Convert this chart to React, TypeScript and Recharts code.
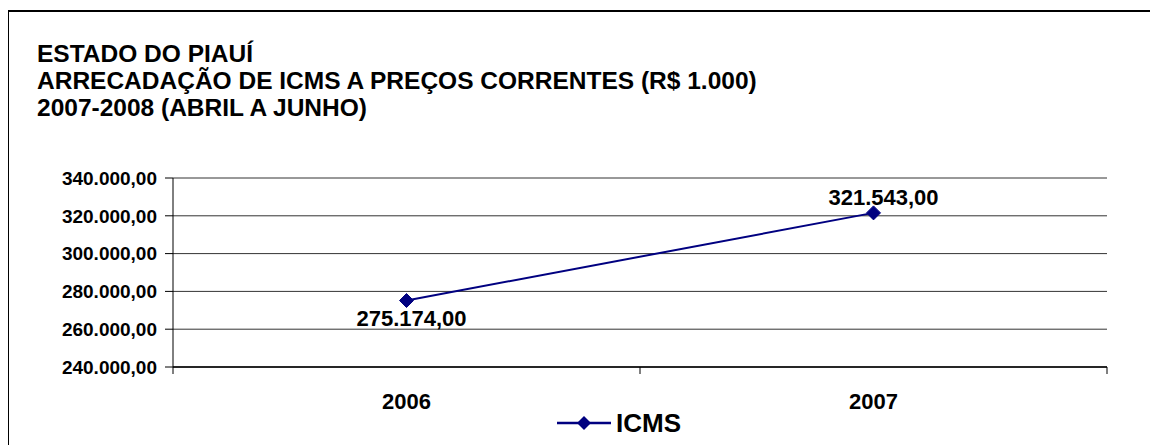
import React from "react";
import { LineChart, Line, XAxis, YAxis, CartesianGrid, Legend, LabelList } from "recharts";

const years = ["2006", "2007"];
const icms = [275174, 321543];
const yTicks = [240000, 260000, 280000, 300000, 320000, 340000];
const titleLines = [
  "ESTADO DO PIAUÍ",
  "ARRECADAÇÃO DE ICMS A PREÇOS CORRENTES (R$ 1.000)",
  "2007-2008 (ABRIL A JUNHO)",
];

const data = years.map((year, i) => ({ year, ICMS: icms[i] }));

const FONT = '"Liberation Sans", Arial, sans-serif';
const NAVY = "#000080";
const X_TICK_SIZE = 6;
const X_TICK_MARGIN = 20;

// 340000 -> "340.000,00"
function brl(v: number) {
  const [int, dec] = v.toFixed(2).split(".");
  return int.replace(/\B(?=(\d{3})+(?!\d))/g, ".") + "," + dec;
}

const Diamond = (props: any) => {
  const { cx, cy } = props;
  if (cx == null || cy == null) return null;
  const r = 7;
  return (
    <polygon
      points={`${cx},${cy - r} ${cx + r},${cy} ${cx},${cy + r} ${cx - r},${cy}`}
      fill={NAVY}
      stroke={NAVY}
    />
  );
};

// category label plus excel-style tick marks between the categories
const XTick = (props: any) => {
  const { x, y, payload, index, visibleTicksCount } = props;
  const axisY = y - X_TICK_SIZE - X_TICK_MARGIN;
  const half = payload.offset || 0;
  const last = index === visibleTicksCount - 1;
  return (
    <g>
      <line x1={x - half} x2={x - half} y1={axisY} y2={axisY + 7} stroke="#000" />
      {last && <line x1={x + half} x2={x + half} y1={axisY} y2={axisY + 7} stroke="#000" />}
      <text x={x} y={y} dy="0.71em" textAnchor="middle" fontFamily={FONT} fontWeight="bold" fontSize={22} fill="#000">
        {payload.value}
      </text>
    </g>
  );
};

const ValueLabel = (props: any) => {
  const { x, y, value, index } = props;
  // first point: label under it, second: label above it
  const below = index === 0;
  return (
    <text
      x={x + (below ? 5 : 10)}
      y={y + (below ? 25 : -8)}
      textAnchor="middle"
      fontFamily={FONT}
      fontWeight="bold"
      fontSize={22}
      fill="#000"
    >
      {brl(value)}
    </text>
  );
};

const LegendBox = () => (
  <div style={{ display: "flex", alignItems: "center", fontFamily: FONT }}>
    <svg width={56} height={20}>
      <line x1={0} y1={10} x2={54} y2={10} stroke={NAVY} strokeWidth={2.5} />
      <polygon points="27,3 34,10 27,17 20,10" fill={NAVY} />
    </svg>
    <span style={{ fontSize: 26, fontWeight: "bold", marginLeft: 3, lineHeight: "30px" }}>ICMS</span>
  </div>
);

export default function App() {
  return (
    <div style={{ position: "fixed", left: 0, top: 0, width: 1150, height: 445, overflow: "hidden", background: "#fff" }}>
      <div
        style={{
          position: "absolute",
          left: 8,
          top: 10,
          width: 1142,
          height: 435,
          borderLeft: "1.5px solid #000",
          borderTop: "2px solid #000",
          boxSizing: "border-box",
        }}
      />
      <div style={{ position: "absolute", left: 37, top: 40, fontFamily: FONT, fontWeight: "bold", fontSize: 24.5, lineHeight: "27px", color: "#000" }}>
        {titleLines.map((t) => (
          <div key={t}>{t}</div>
        ))}
      </div>
      <div style={{ position: "absolute", left: 0, top: 0 }}>
        <LineChart width={1150} height={445} data={data} margin={{ top: 178, right: 43, left: 0, bottom: 7 }}>
          <CartesianGrid vertical={false} stroke="#333" strokeWidth={1} />
          <XAxis
            dataKey="year"
            scale="band"
            height={41}
            axisLine={{ stroke: "#000", strokeWidth: 1.5 }}
            tickLine={false}
            tickSize={X_TICK_SIZE}
            tickMargin={X_TICK_MARGIN}
            tick={<XTick />}
            interval={0}
          />
          <YAxis
            width={173}
            domain={[240000, 340000]}
            ticks={yTicks}
            tickFormatter={brl}
            stroke="#000"
            tickSize={8}
            tickMargin={8}
            tick={{ fill: "#000", fontSize: 19, fontWeight: "bold", fontFamily: FONT }}
            allowDataOverflow
          />
          <Legend
            verticalAlign="bottom"
            content={<LegendBox />}
            wrapperStyle={{ left: 557, width: 200, height: 30 }}
          />
          <Line
            type="linear"
            dataKey="ICMS"
            stroke={NAVY}
            strokeWidth={2}
            dot={<Diamond />}
            activeDot={false}
            isAnimationActive={false}
          >
            <LabelList dataKey="ICMS" content={<ValueLabel />} />
          </Line>
        </LineChart>
      </div>
    </div>
  );
}
